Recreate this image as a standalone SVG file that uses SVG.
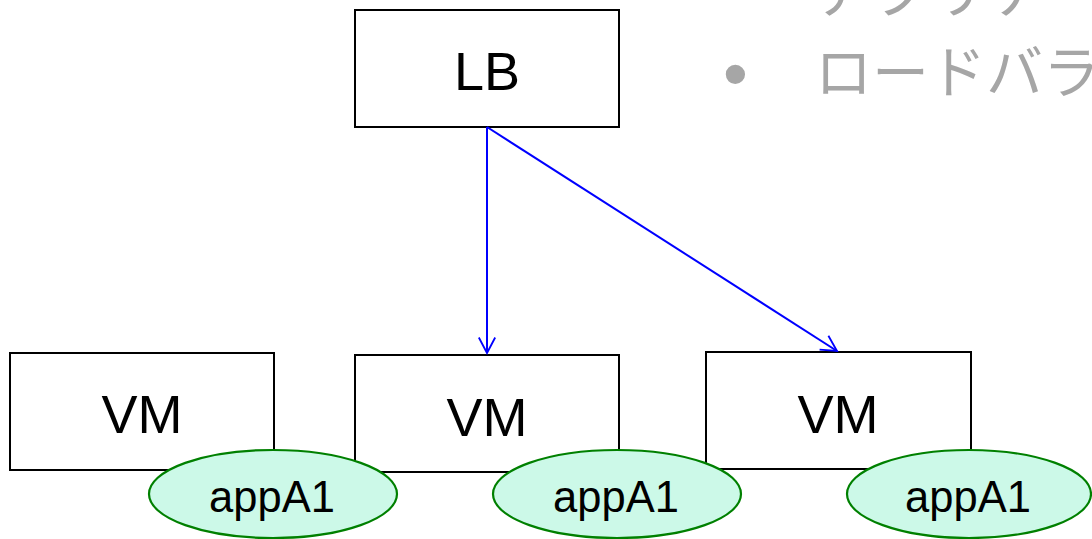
<svg xmlns="http://www.w3.org/2000/svg" width="1092" height="539" viewBox="0 0 1092 539">
  <style>
    .box { fill: #ffffff; stroke: #000000; stroke-width: 2; }
    .app { fill: #ccf9e8; stroke: #008000; stroke-width: 2.2; }
    .big { font-family: "Liberation Sans", Arial, sans-serif; font-size: 54px; fill: #000000; text-anchor: middle; }
    .small { font-family: "Liberation Sans", Arial, sans-serif; font-size: 43.5px; fill: #000000; text-anchor: middle; }
    .note { font-family: "Liberation Sans", "Noto Sans CJK JP", sans-serif; font-size: 57px; fill: #a6a6a6; }
    .dot { font-family: "Liberation Sans", Arial, sans-serif; font-size: 71px; fill: #a6a6a6; }
    .link { fill: none; stroke: #0000ff; stroke-width: 2; }
  </style>
  <defs>
    <marker id="open-arrow" markerUnits="userSpaceOnUse" markerWidth="20" markerHeight="20" refX="0" refY="0" viewBox="-20 -10 22 20" orient="auto" overflow="visible">
      <path d="M-17,-9 L0,0 L-17,9" fill="none" stroke="#0000ff" stroke-width="2"/>
    </marker>
  </defs>

  <rect width="1092" height="539" fill="#ffffff"/>

  <!-- bullet notes, partly off the top/right edge -->
  <g id="notes">
    <text class="dot" x="723" y="11">•</text>
    <text class="note" x="815" y="13">アプリケ</text>
    <text class="dot" x="723" y="98">•</text>
    <text class="note" x="815" y="93">ロードバラ</text>
  </g>

  <g id="lb">
    <rect class="box" x="355" y="10" width="264" height="117"/>
    <text class="big" x="487" y="90">LB</text>
  </g>

  <g id="vm1">
    <rect class="box" x="10" y="353" width="264" height="117"/>
    <text class="big" x="142" y="433">VM</text>
  </g>
  <g id="vm2">
    <rect class="box" x="355" y="355" width="264" height="117"/>
    <text class="big" x="487" y="436">VM</text>
  </g>
  <g id="vm3">
    <rect class="box" x="706" y="352" width="265" height="117"/>
    <text class="big" x="838" y="433">VM</text>
  </g>

  <g id="app1">
    <ellipse class="app" cx="273" cy="494" rx="124" ry="44"/>
    <text class="small" x="272" y="512">appA1</text>
  </g>
  <g id="app2">
    <ellipse class="app" cx="617" cy="494" rx="124" ry="44"/>
    <text class="small" x="616" y="512">appA1</text>
  </g>
  <g id="app3">
    <ellipse class="app" cx="969" cy="494" rx="122" ry="44"/>
    <text class="small" x="968" y="512">appA1</text>
  </g>

  <g id="connectors">
    <line class="link" x1="487" y1="127" x2="487" y2="353" marker-end="url(#open-arrow)"/>
    <line class="link" x1="487" y1="127" x2="837" y2="351" marker-end="url(#open-arrow)"/>
  </g>
</svg>
